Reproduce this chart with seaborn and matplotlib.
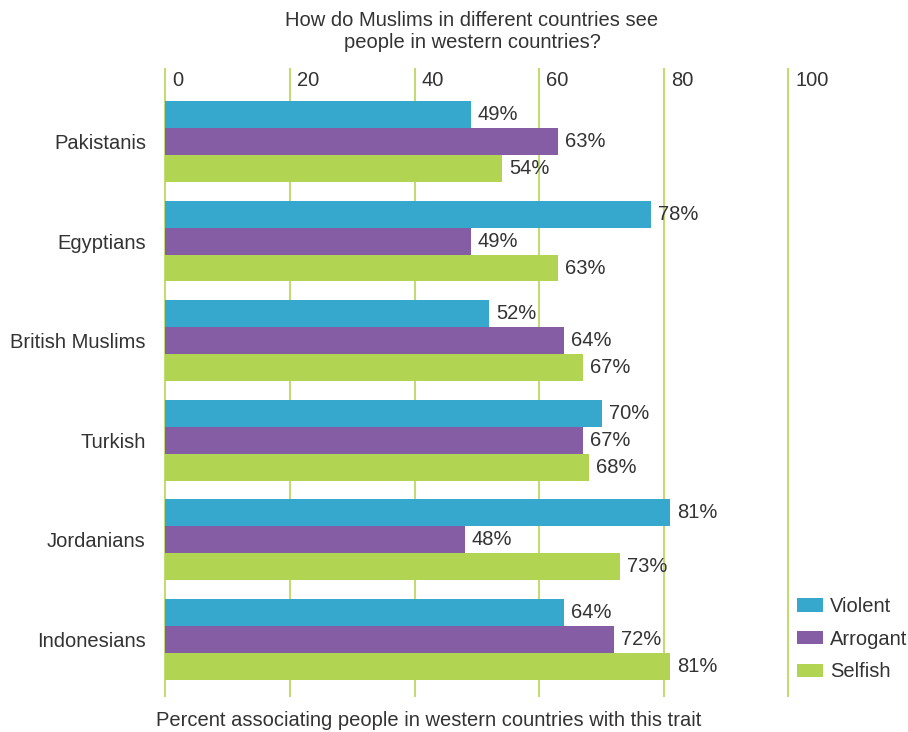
import numpy as np
import pandas as pd
import matplotlib
matplotlib.use("Agg")
import matplotlib.pyplot as plt
import matplotlib.transforms as mtransforms
from matplotlib.patches import Patch
import seaborn as sns

# Survey results: share associating people in western countries with each trait
countries = ["Pakistanis", "Egyptians", "British Muslims", "Turkish", "Jordanians", "Indonesians"]
traits = ["Violent", "Arrogant", "Selfish"]
violent = [49, 78, 52, 70, 81, 64]
arrogant = [63, 49, 64, 67, 48, 72]
selfish = [54, 63, 67, 68, 73, 81]
x_ticks = [0, 20, 40, 60, 80, 100]

colors = ["#36A8CE", "#845DA5", "#B1D453"]
grid_color = "#C2DC72"
text_color = "#333333"

df = pd.DataFrame({
    "country": countries * 3,
    "trait": [t for t in traits for _ in countries],
    "value": violent + arrogant + selfish,
})

sns.set_theme(style="white")
plt.rcParams["font.family"] = ["Liberation Sans", "DejaVu Sans"]
plt.rcParams["text.color"] = text_color

FS = 14.5
W, H = 908, 732
fig = plt.figure(figsize=(W / 100, H / 100), dpi=100)
ax = fig.add_axes([157 / W, 1 - 697 / H, (905 - 157) / W, (697 - 68) / H])

sns.barplot(data=df, y="country", x="value", hue="trait", orient="h",
            order=countries, hue_order=traits, palette=colors,
            width=0.81, saturation=1, linewidth=0, legend=False, ax=ax)

ax.set_xlim(-1.36, 118.7)
ax.set_ylim(5.58, -0.74)
ax.set_xticks(x_ticks)
ax.xaxis.grid(True, color=grid_color, linewidth=1.5)
ax.yaxis.grid(False)
ax.set_axisbelow(True)
for s in ax.spines.values():
    s.set_visible(False)
ax.tick_params(axis="x", length=0, labelbottom=False)
ax.tick_params(axis="y", length=0, pad=8, labelsize=FS, labelcolor=text_color)
ax.set_xlabel("")
ax.set_ylabel("")

# Tick values sit just right of each gridline, at the top of the plot
trans = mtransforms.blended_transform_factory(ax.transData, ax.transAxes)
for t in x_ticks:
    ax.text(t + 1.1, 1 - 13 / 629, str(t), transform=trans, ha="left", va="center",
            fontsize=FS, color=text_color)

for cont in ax.containers:
    ax.bar_label(cont, fmt="%d%%", padding=5, fontsize=FS, color=text_color)

fig.text(472 / W, 1 - 32 / H,
         "How do Muslims in different countries see\npeople in western countries?",
         ha="center", va="center", fontsize=FS, color=text_color, linespacing=1.2)
fig.text(156 / W, 1 - 721 / H,
         "Percent associating people in western countries with this trait",
         ha="left", va="center", fontsize=FS, color=text_color)

handles = [Patch(facecolor=c, edgecolor="none", label=t) for c, t in zip(colors, traits)]
ax.legend(handles=handles, loc="upper left",
          bbox_to_anchor=(797 / W, 1 - 597 / H), bbox_transform=fig.transFigure,
          frameon=False, fontsize=FS, handlelength=1.3, handleheight=0.65,
          handletextpad=0.35, labelspacing=0.68, borderpad=0, borderaxespad=0,
          labelcolor=text_color)

fig.savefig("out.png", dpi=100)
